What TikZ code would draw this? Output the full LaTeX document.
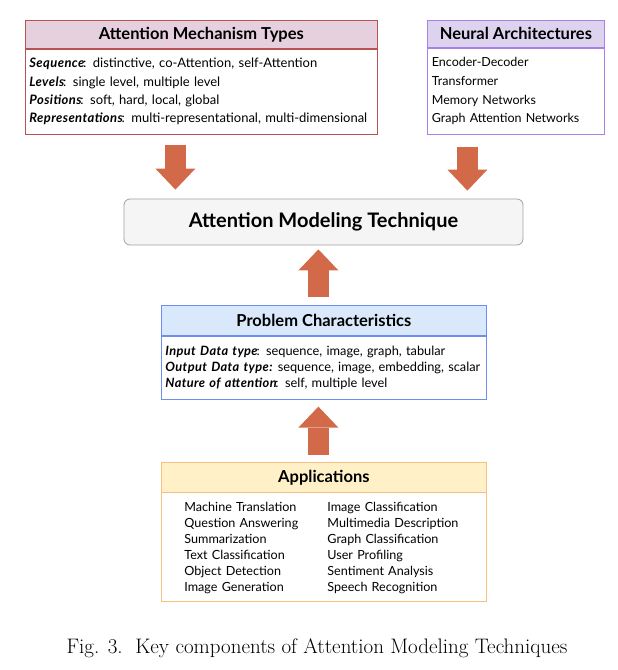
\documentclass[tikz,border=0pt]{standalone}
\usepackage{fontspec}
\setsansfont{Lato}
\usepackage{xcolor}
\usetikzlibrary{arrows.meta,positioning}

\definecolor{mechline}{HTML}{B85450}
\definecolor{mechfill}{HTML}{E6D0DE}
\definecolor{archline}{HTML}{A97FE8}
\definecolor{archfill}{HTML}{DDD3EE}
\definecolor{probline}{HTML}{6D8EF0}
\definecolor{probfill}{HTML}{DAE8FC}
\definecolor{appline}{HTML}{F5C080}
\definecolor{appfill}{HTML}{FFF0C8}
\definecolor{techline}{HTML}{A0A0A0}
\definecolor{techfill}{HTML}{F5F5F5}
\definecolor{arrowc}{HTML}{D26A4A}

\newcommand{\lbl}[1]{{\bfseries\itshape\addfontfeature{LetterSpace=3}#1}\kern-1.2pt\relax}

\begin{document}
\begin{tikzpicture}[
    x=1pt, y=-1pt,
    head/.style={rectangle, draw, line width=0.8pt, inner sep=0pt, minimum height=28pt, anchor=north west, font=\sffamily\bfseries\fontsize{16.5}{18}\selectfont},
    body/.style={rectangle, draw, line width=0.8pt, fill=white, inner xsep=4pt, inner ysep=0pt, align=left, font=\sffamily\fontsize{13}{18.4}\selectfont},
    tech/.style={rectangle, draw=techline, fill=techfill, line width=0.8pt, rounded corners=6pt, minimum width=399pt, minimum height=46pt, font=\sffamily\bfseries\fontsize{20}{22}\selectfont},
    bigarrow/.style={-{Triangle[length=21pt, width=40pt, line width=0pt]}, line width=21pt, draw=arrowc}
]
    \useasboundingbox (0,0) rectangle (618,670);

    % Boxes
    \node[head, draw=mechline, fill=mechfill, minimum width=352pt] (mech) at (25,20) {Attention Mechanism Types};
    \node[body, draw=mechline, text width=344pt, minimum height=85pt, below=0pt of mech] (mechbody) {\lbl{Sequence}: distinctive, co-Attention, self-Attention\\
        \lbl{Levels}: single level, multiple level\\
        \lbl{Positions}: soft, hard, local, global\\
        \lbl{Representations}: multi-representational, multi-dimensional};

    \node[head, draw=archline, fill=archfill, minimum width=177pt, minimum height=27pt] (arch) at (427,20) {Neural Architectures};
    \node[body, draw=archline, text width=168pt, inner xsep=4.5pt, minimum height=86pt, font=\sffamily\fontsize{12.5}{18.7}\selectfont, below=0pt of arch] (archbody) {Encoder-Decoder\\
        Transformer\\
        Memory Networks\\
        Graph Attention Networks};

    \node[tech] (amt) at (323.5,222) {Attention Modeling Technique};

    \node[head, draw=probline, fill=probfill, minimum width=325pt, minimum height=30pt] (prob) at (161,305) {Problem Characteristics};
    \node[body, draw=probline, text width=317pt, minimum height=63pt, font=\sffamily\fontsize{12.8}{16}\selectfont, below=0pt of prob] (probbody) {\lbl{Input Data type}: sequence, image, graph, tabular\\
        \lbl{Output Data type:} sequence, image, embedding, scalar\\
        \lbl{Nature of attention}: self, multiple level};

    \node[head, draw=appline, fill=appfill, minimum width=325pt, minimum height=30pt] (app) at (161,462) {Applications};
    \node[body, draw=none, text width=302pt, inner xsep=0pt, minimum height=109pt, font=\sffamily\fontsize{12.6}{16}\selectfont, below=0pt of app, xshift=11.5pt] (appbody) {\makebox[143pt][l]{Machine Translation}Image Classification\\
        \makebox[143pt][l]{Question Answering}Multimedia Description\\
        \makebox[143pt][l]{Summarization}Graph Classification\\
        \makebox[143pt][l]{Text Classification}User Profiling\\
        \makebox[143pt][l]{Object Detection}Sentiment Analysis\\
        \makebox[143pt][l]{Image Generation}Speech Recognition};
    \draw[draw=appline, line width=0.8pt] (app.south west) rectangle (app.south east |- 0,601);

    % Arrows
    \draw[bigarrow, shorten <=10pt, shorten >=9pt] ([xshift=-26pt]mechbody.south) -- ([xshift=-26pt]mechbody.south |- amt.north);
    \draw[bigarrow, shorten <=12pt, shorten >=8pt] ([xshift=-48.5pt]archbody.south) -- ([xshift=-48.5pt]archbody.south |- amt.north);
    \draw[bigarrow, shorten <=8pt, shorten >=4pt] ([xshift=-5.5pt]prob.north) -- ([xshift=-5.5pt]prob.north |- amt.south);
    \draw[bigarrow, shorten <=7pt, shorten >=7pt] ([xshift=-5.5pt]app.north) -- ([xshift=-5.5pt]app.north |- probbody.south);

    % Caption
    \node[font=\rmfamily\fontsize{21}{24}\selectfont] (caption) at (317,648) {Fig. 3.\ \ Key components of Attention Modeling Techniques};
\end{tikzpicture}
\end{document}
